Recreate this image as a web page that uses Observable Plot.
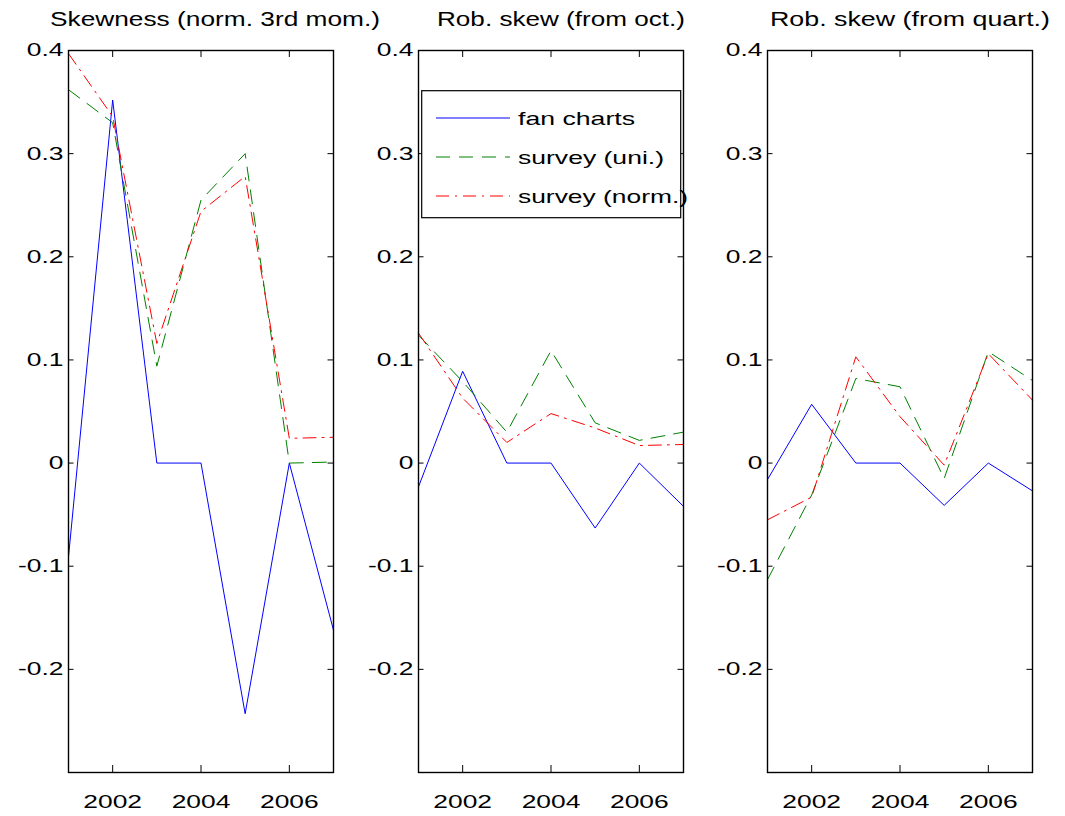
<!DOCTYPE html>
<html>
<head>
<meta charset="utf-8">
<script src="https://cdn.jsdelivr.net/npm/d3@7"></script>
<script src="https://cdn.jsdelivr.net/npm/@observablehq/plot@0.6"></script>
<style>
  body { margin: 0; background: #fff; }
  #wrap { position: relative; width: 1065px; height: 816px; overflow: hidden; font-family: "Liberation Sans", Arial, sans-serif; }
  .panel { position: absolute; top: 40px; }
  #overlay { position: absolute; left: 0; top: 0; pointer-events: none; }
</style>
</head>
<body>
<div id="wrap"></div>
<script>
// ---- data ----
const years = [2001, 2002, 2003, 2004, 2005, 2006, 2007];
const titles = ["Skewness (norm. 3rd mom.)", "Rob. skew (from oct.)", "Rob. skew (from quart.)"];
const seriesNames = ["fan charts", "survey (uni.)", "survey (norm.)"];
const xTicks = [2002, 2004, 2006];
const yTicks = [-0.2, -0.1, 0, 0.1, 0.2, 0.3, 0.4];

const skewFan  = [-0.091, 0.352, 0, 0, -0.243, 0, -0.162];
const skewUni  = [0.362, 0.330, 0.094, 0.255, 0.300, 0.000, 0.001];
const skewNorm = [0.397, 0.336, 0.116, 0.244, 0.278, 0.024, 0.025];

const octFan  = [-0.023, 0.089, 0, 0, -0.063, 0, -0.042];
const octUni  = [0.124, 0.079, 0.030, 0.109, 0.039, 0.022, 0.030];
const octNorm = [0.126, 0.063, 0.020, 0.048, 0.034, 0.017, 0.018];

const quartFan  = [-0.016, 0.057, 0, 0, -0.041, 0, -0.027];
const quartUni  = [-0.113, -0.031, 0.082, 0.074, -0.015, 0.108, 0.080];
const quartNorm = [-0.055, -0.033, 0.103, 0.045, -0.002, 0.106, 0.061];

const panelsData = [
  [skewFan, skewUni, skewNorm],
  [octFan, octUni, octNorm],
  [quartFan, quartUni, quartNorm]
];

// ---- styles ----
const colors = ["#0000ff", "#008000", "#ff0000"];
const dashes = [null, "14,9", "13,6,2,6"];
const stretch = 1.42;

const wrap = document.getElementById("wrap");
const frameLefts = [68, 418, 767];
const frameW = 265;
const mL = 66, mR = 30, mT = 10, mB = 44, frameH = 722;

function widen(t, factor, fixed) {
  const w = fixed || t.getComputedTextLength() * factor;
  t.setAttribute("textLength", w);
  t.setAttribute("lengthAdjust", "spacingAndGlyphs");
}

panelsData.forEach((series, p) => {
  const marks = [];
  series.forEach((vals, s) => {
    const rows = years.map((y, i) => ({year: y, v: vals[i]}));
    marks.push(Plot.line(rows, {
      x: "year", y: "v", stroke: colors[s], strokeWidth: 1,
      strokeDasharray: dashes[s] || undefined
    }));
  });
  marks.push(
    Plot.frame({stroke: "#000", strokeWidth: 1.4}),
    Plot.tickX(xTicks, {x: d => d, stroke: "#000", insetTop: frameH - 7}),
    Plot.tickX(xTicks, {x: d => d, stroke: "#000", insetBottom: frameH - 7}),
    Plot.tickY(yTicks, {y: d => d, stroke: "#000", insetRight: frameW - 5.5}),
    Plot.tickY(yTicks, {y: d => d, stroke: "#000", insetLeft: frameW - 5.5}),
    Plot.axisX({ticks: xTicks, tickSize: 0, tickPadding: 22, tickFormat: d => String(d), label: null}),
    Plot.axisY({ticks: yTicks, tickSize: 0, tickPadding: 5, tickFormat: d => d === 0 ? "0" : d.toFixed(1), label: null})
  );
  const chart = Plot.plot({
    width: mL + frameW + mR,
    height: mT + frameH + mB,
    marginLeft: mL, marginRight: mR, marginTop: mT, marginBottom: mB,
    x: {domain: [2001, 2007]},
    y: {domain: [-0.3, 0.4]},
    style: {fontFamily: "Liberation Sans, Arial, sans-serif", fontSize: "18.6px", color: "#000", background: "transparent", overflow: "visible"},
    marks
  });
  chart.classList.add("panel");
  chart.style.left = (frameLefts[p] - mL) + "px";
  wrap.appendChild(chart);
  chart.querySelectorAll("text").forEach(t => widen(t, stretch));
});

// ---- overlay: titles and legend ----
const ov = d3.select(wrap).append("svg")
  .attr("id", "overlay").attr("width", 1065).attr("height", 816)
  .style("font-family", "Liberation Sans, Arial, sans-serif");

const titleX = [50, 437, 770];
const titleW = [330, 248, 280];
titles.forEach((t, i) => {
  const el = ov.append("text").attr("x", titleX[i]).attr("y", 26)
    .attr("font-size", 20).attr("fill", "#000").text(t);
  widen(el.node(), 1, titleW[i]);
});

const lg = ov.append("g");
lg.append("rect").attr("x", 421.7).attr("y", 90.7).attr("width", 259).attr("height", 127)
  .attr("fill", "#fff").attr("stroke", "#000").attr("stroke-width", 1.2);
const legY = [118, 157, 196];
const legW = [117, 146, 170];
seriesNames.forEach((name, i) => {
  const ln = lg.append("line").attr("x1", 436).attr("x2", 510).attr("y1", legY[i]).attr("y2", legY[i])
    .attr("stroke", colors[i]).attr("stroke-width", 1);
  if (dashes[i]) ln.attr("stroke-dasharray", dashes[i]);
  const el = lg.append("text").attr("x", 518).attr("y", legY[i] + 7).attr("font-size", 19)
    .attr("fill", "#000").text(name);
  widen(el.node(), 1, legW[i]);
});
</script>
</body>
</html>
